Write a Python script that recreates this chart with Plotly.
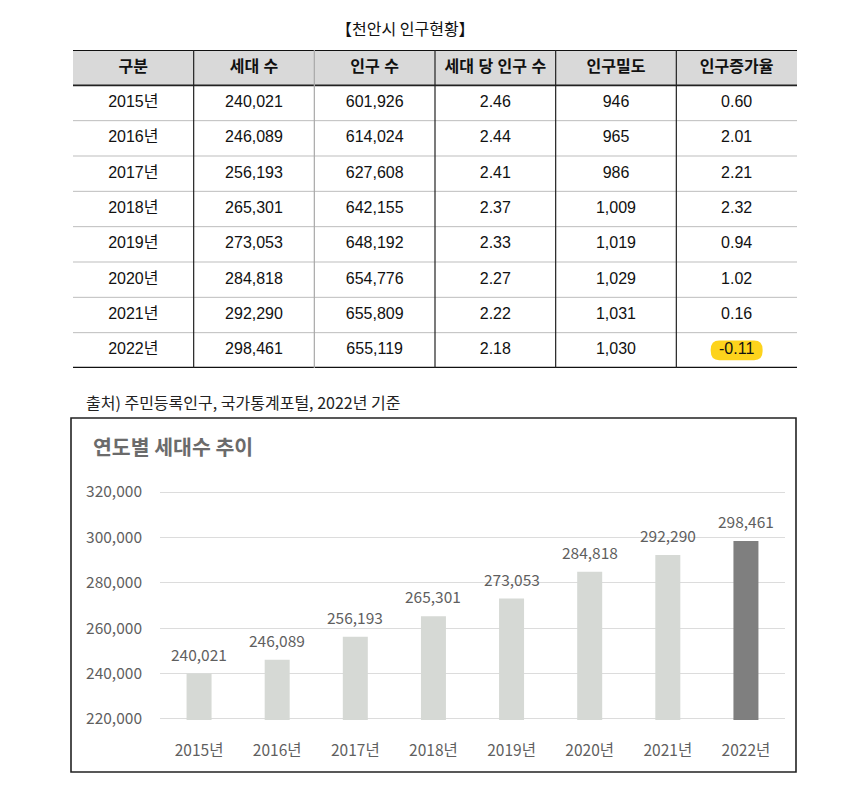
import plotly.graph_objects as go

# ---------------- data ----------------
years = ["2015년", "2016년", "2017년", "2018년", "2019년", "2020년", "2021년", "2022년"]
households = [240021, 246089, 256193, 265301, 273053, 284818, 292290, 298461]
population = [601926, 614024, 627608, 642155, 648192, 654776, 655809, 655119]
per_household = [2.46, 2.44, 2.41, 2.37, 2.33, 2.27, 2.22, 2.18]
density = [946, 965, 986, 1009, 1019, 1029, 1031, 1030]
growth = [0.60, 2.01, 2.21, 2.32, 0.94, 1.02, 0.16, -0.11]
headers = ["구분", "세대 수", "인구 수", "세대 당 인구 수", "인구밀도", "인구증가율"]
y_ticks = [220000, 240000, 260000, 280000, 300000, 320000]
table_title = "【천안시 인구현황】"
source_note = "출처) 주민등록인구, 국가통계포털, 2022년 기준"
chart_title = "연도별 세대수 추이"

# ---------------- layout helpers ----------------
W, H = 847, 811
def X(px):
    return px / W
def Y(py):
    return 1 - py / H

KR = "Noto Sans CJK KR"
TBL_FONT = "Liberation Sans, Noto Sans CJK KR"
GRAY_TXT = "#5f5f5f"
CHART_FS = 15.5

fig = go.Figure()

# ---------------- bar chart ----------------
bar_colors = ["#d6d9d5"] * (len(years) - 1) + ["#7f7f7f"]
fig.add_trace(go.Bar(
    x=years, y=households, marker=dict(color=bar_colors, line=dict(width=0)),
    xaxis="x", yaxis="y", hoverinfo="skip", showlegend=False,
))

# ---------------- table (text through hidden axes) ----------------
ncol = len(headers)
nrow = len(years) + 1
fig.add_trace(go.Scatter(
    x=[c + 0.5 for c in range(ncol)], y=[0.5] * ncol,
    text=[f"<b>{h}</b>" for h in headers], mode="text",
    textfont=dict(family=TBL_FONT, size=16, color="#111111"),
    xaxis="x2", yaxis="y2", hoverinfo="skip", showlegend=False,
))

cells_x, cells_y, cells_t = [], [], []
for i, yr in enumerate(years):
    row = [yr, f"{households[i]:,}", f"{population[i]:,}", f"{per_household[i]:.2f}",
           f"{density[i]:,}", f"{growth[i]:.2f}"]
    for c, t in enumerate(row):
        cells_x.append(c + 0.5)
        cells_y.append(i + 1.5)
        cells_t.append(t)
fig.add_trace(go.Scatter(
    x=cells_x, y=cells_y, text=cells_t, mode="text",
    textfont=dict(family=TBL_FONT, size=16, color="#111111"),
    xaxis="x2", yaxis="y2", hoverinfo="skip", showlegend=False,
))

shapes = []
# header fill
shapes.append(dict(type="rect", xref="x2", yref="y2", x0=0, x1=ncol, y0=0, y1=1,
                   fillcolor="#d9d9d9", line=dict(width=0), layer="below"))
# highlight for the negative growth value
neg_idx = growth.index(min(growth))
cx, cy = 5.5, neg_idx + 1.5
hx, hy = 0.215, 0.28
rx, ry = 0.07, 0.26
x0, x1, y0, y1 = cx - hx, cx + hx, cy - hy, cy + hy
path = (f"M {x0+rx},{y0} L {x1-rx},{y0} Q {x1},{y0} {x1},{y0+ry} "
        f"L {x1},{y1-ry} Q {x1},{y1} {x1-rx},{y1} L {x0+rx},{y1} "
        f"Q {x0},{y1} {x0},{y1-ry} L {x0},{y0+ry} Q {x0},{y0} {x0+rx},{y0} Z")
shapes.append(dict(type="path", xref="x2", yref="y2", path=path,
                   fillcolor="#fdd31c", line=dict(width=0), layer="below"))
# horizontal lines
shapes.append(dict(type="line", xref="x2", yref="y2", x0=0, x1=ncol, y0=0, y1=0,
                   line=dict(color="#111111", width=2.2)))
shapes.append(dict(type="line", xref="x2", yref="y2", x0=0, x1=ncol, y0=1, y1=1,
                   line=dict(color="#222222", width=1.6)))
for r in range(2, nrow):
    shapes.append(dict(type="line", xref="x2", yref="y2", x0=0, x1=ncol, y0=r, y1=r,
                       line=dict(color="#bdbdbd", width=1)))
shapes.append(dict(type="line", xref="x2", yref="y2", x0=0, x1=ncol, y0=nrow, y1=nrow,
                   line=dict(color="#111111", width=2.4)))
# vertical lines
for c in range(1, ncol):
    col = "#a8a8a8" if c == 2 else "#222222"
    shapes.append(dict(type="line", xref="x2", yref="y2", x0=c, x1=c, y0=0, y1=nrow,
                       line=dict(color=col, width=1.2)))
# chart frame
shapes.append(dict(type="rect", xref="paper", yref="paper",
                   x0=X(71), x1=X(796), y0=Y(772), y1=Y(418),
                   line=dict(color="#222222", width=1.6), fillcolor="rgba(0,0,0,0)"))

annotations = [
    dict(text=table_title, xref="paper", yref="paper", x=X(405), y=Y(28),
         showarrow=False, xanchor="center", yanchor="middle",
         font=dict(family=KR, size=16, color="#111111")),
    dict(text=source_note, xref="paper", yref="paper", x=X(84), y=Y(402),
         showarrow=False, xanchor="left", yanchor="middle",
         font=dict(family=KR, size=16, color="#222222")),
    dict(text=f"<b>{chart_title}</b>", xref="paper", yref="paper", x=X(91), y=Y(446),
         showarrow=False, xanchor="left", yanchor="middle",
         font=dict(family=KR, size=20.5, color="#6b6b6b")),
]
for yr, v in zip(years, households):
    annotations.append(dict(text=f"{v:,}", xref="x", yref="y", x=yr, y=v,
                            showarrow=False, xanchor="center", yanchor="middle",
                            yshift=20, font=dict(family=KR, size=CHART_FS, color=GRAY_TXT)))

fig.update_layout(
    template="none",
    width=W, height=H, margin=dict(l=0, r=0, t=0, b=0, pad=0, autoexpand=False),
    paper_bgcolor="white", plot_bgcolor="white",
    showlegend=False, bargap=0.68,
    shapes=shapes, annotations=annotations,
    xaxis=dict(domain=[X(160), X(785)], type="category", anchor="y", automargin=False,
               range=[-0.5, len(years) - 0.5], showgrid=False, showline=False,
               zeroline=False, ticks="", ticklabelstandoff=19,
               tickfont=dict(family=KR, size=CHART_FS, color=GRAY_TXT)),
    yaxis=dict(domain=[Y(720.1), Y(490.9)], anchor="x", range=[219500, 320500],
               automargin=False,
               tickvals=y_ticks, ticktext=[f"{t:,}" for t in y_ticks],
               showgrid=True, gridcolor="#dcdcdc", gridwidth=1,
               showline=False, zeroline=False, ticks="", ticklabelstandoff=17,
               tickfont=dict(family=KR, size=CHART_FS, color=GRAY_TXT)),
    xaxis2=dict(domain=[X(73), X(797)], anchor="y2", range=[0, ncol], visible=False,
                automargin=False, fixedrange=True),
    yaxis2=dict(domain=[Y(368), Y(50)], anchor="x2", range=[nrow, 0], visible=False,
                automargin=False, fixedrange=True),
)

fig.write_html(
    "out.html",
    config={"displayModeBar": False},
    post_script="document.body.style.margin='0';document.body.style.overflow='hidden';",
)
